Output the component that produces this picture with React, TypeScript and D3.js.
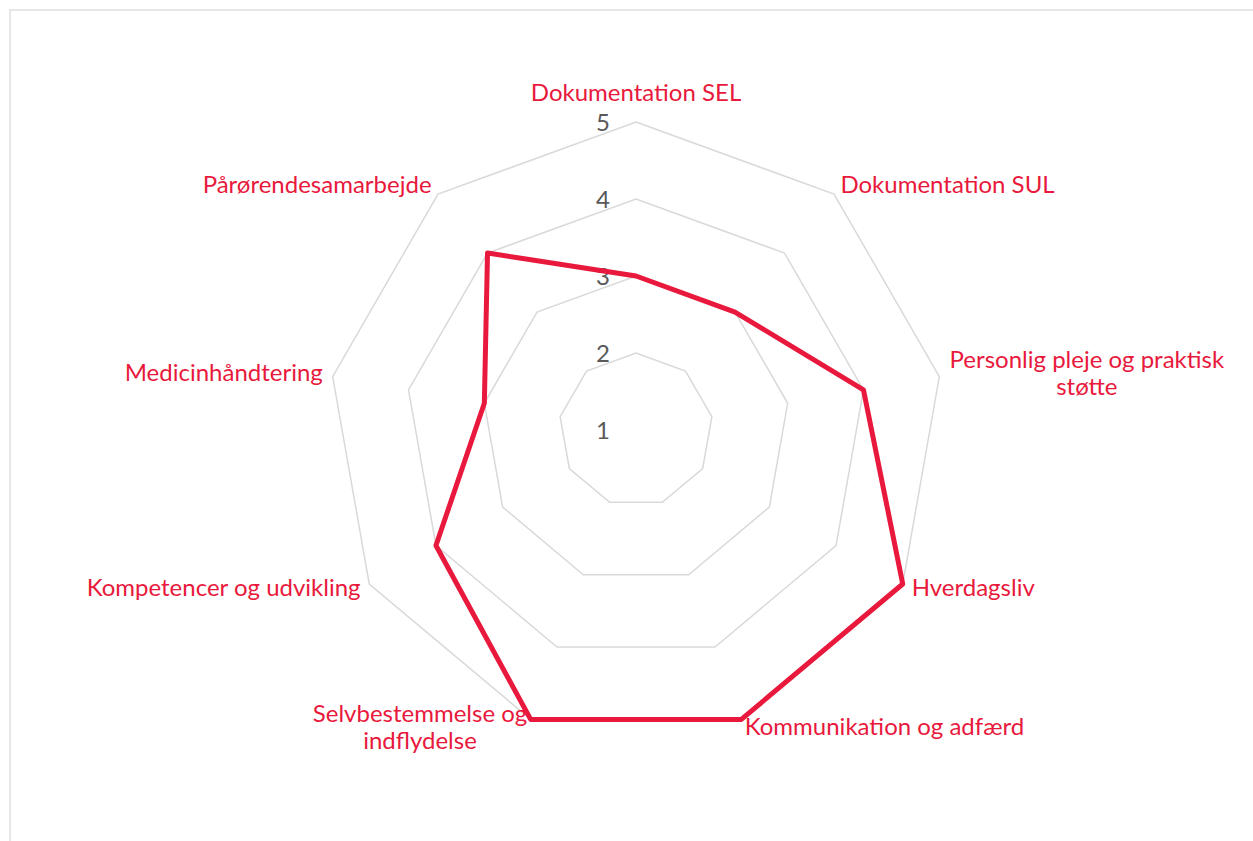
import * as d3 from "d3";
import { useEffect, useRef } from "react";

// categories around the radar, clockwise from the top ("\n" = line break)
const categories = [
  "Dokumentation SEL",
  "Dokumentation SUL",
  "Personlig pleje og praktisk\nstøtte",
  "Hverdagsliv",
  "Kommunikation og adfærd",
  "Selvbestemmelse og\nindflydelse",
  "Kompetencer og udvikling",
  "Medicinhåndtering",
  "Pårørendesamarbejde",
];
const scores = [3, 3, 4, 5, 5, 5, 4, 3, 4];
const levels = [1, 2, 3, 4, 5];

const W = 1253;
const H = 841;
const RED = "#e8193c";
const FONT = "Lato, 'DejaVu Sans', sans-serif";

function App() {
  const ref = useRef<SVGSVGElement | null>(null);

  useEffect(() => {
    const svg = d3.select(ref.current);
    svg.selectAll("*").remove();

    const cx = 636;
    const cy = 430;
    const r = d3.scaleLinear().domain([1, 5]).range([0, 308]);
    const n = categories.length;
    const angle = (i: number) => (i * 2 * Math.PI) / n;
    const pt = (i: number, v: number): [number, number] => [
      cx + r(v) * Math.sin(angle(i)),
      cy - r(v) * Math.cos(angle(i)),
    ];

    // chart frame
    svg.append("rect")
      .attr("x", 10).attr("y", 10)
      .attr("width", W + 20).attr("height", H + 20)
      .attr("fill", "#fff")
      .attr("stroke", "#e6e6e6")
      .attr("stroke-width", 2);

    const line = d3.line().curve(d3.curveLinearClosed);

    // grid polygons (level 1 is the centre point)
    svg.append("g")
      .selectAll("path")
      .data(levels.filter((l) => l > 1))
      .join("path")
      .attr("d", (l) => line(categories.map((_, i) => pt(i, l))))
      .attr("fill", "none")
      .attr("stroke", "#d9d9d9")
      .attr("stroke-width", 1.5);

    // level labels
    svg.append("g")
      .selectAll("text")
      .data(levels)
      .join("text")
      .attr("x", cx - 26)
      .attr("y", (l) => cy - r(l))
      .attr("dy", "0.36em")
      .attr("text-anchor", "end")
      .attr("fill", "#595959")
      .style("font-family", FONT)
      .style("font-size", "24px")
      .text((l) => l);

    // data polygon
    svg.append("path")
      .attr("d", line(scores.map((v, i) => pt(i, v))))
      .attr("fill", "none")
      .attr("stroke", RED)
      .attr("stroke-width", 5)
      .attr("stroke-linejoin", "round");

    // category labels
    const lh = 27;
    categories.forEach((c, i) => {
      const a = angle(i);
      const s = Math.sin(a);
      const co = Math.cos(a);
      const [vx, vy] = pt(i, 5);
      const lines = c.split("\n");
      const px = vx + 10 * s;
      let py = vy - 10 * co - 2;
      if (co > 0.9) py -= 18;
      const t = svg.append("text")
        .attr("fill", RED)
        .attr("text-anchor", "middle")
        .style("font-family", FONT)
        .style("font-size", "24px");
      lines.forEach((ln, k) => {
        t.append("tspan")
          .attr("x", 0)
          .attr("y", (k - (lines.length - 1) / 2) * lh)
          .attr("dy", "0.36em")
          .text(ln);
      });
      const w = (t.node() as SVGTextElement).getBBox().width;
      let x = px;
      if (Math.abs(s) > 0.1) x = s > 0 ? px + w / 2 : px - w / 2;
      t.attr("transform", `translate(${x},${py})`);
    });
  }, []);

  return (
    <svg
      ref={ref}
      width={W}
      height={H}
      style={{ position: "absolute", left: 0, top: 0, display: "block" }}
    />
  );
}

export default App;
